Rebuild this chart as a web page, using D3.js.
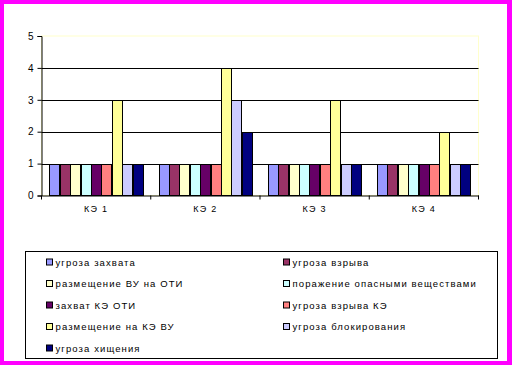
<!DOCTYPE html>
<html><head><meta charset="utf-8">
<script src="https://cdn.jsdelivr.net/npm/d3@7"></script>
<style>body{margin:0;background:#fff}svg{display:block}text{font-family:"Liberation Sans",Arial,sans-serif;fill:#000}</style>
</head><body>
<script>
const categories = ["КЭ 1","КЭ 2","КЭ 3","КЭ 4"];
const seriesNames = ["угроза захвата","угроза взрыва","размещение ВУ на ОТИ","поражение опасными веществами","захват КЭ ОТИ","угроза взрыва КЭ","размещение на КЭ ВУ","угроза блокирования","угроза хищения"];
const seriesColors = ["#9999FF","#993366","#FFFFCC","#CCFFFF","#660066","#FF8080","#FFFF99","#CCCCFF","#000080"];
const values = [
  [1,1,1,1],
  [1,1,1,1],
  [1,1,1,1],
  [1,1,1,1],
  [1,1,1,1],
  [1,1,1,1],
  [3,4,3,2],
  [1,3,1,1],
  [1,2,1,1]
];
const yTicks = [0,1,2,3,4,5];

const W=512,H=365;
const svg=d3.select("body").append("svg").attr("width",W).attr("height",H);
svg.append("rect").attr("width",W).attr("height",H).attr("fill","#FF00FF");
svg.append("rect").attr("x",4).attr("y",4).attr("width",503).attr("height",357).attr("fill","#fff");

const px0=41.5, px1=478.5, py0=195.5, py1=36;
const x=d3.scaleBand().domain(categories).range([px0,px1]).paddingInner(0).paddingOuter(0);
const xs=d3.scaleBand().domain(d3.range(seriesNames.length)).range([0,x.bandwidth()]).paddingInner(0).paddingOuter(0.75);
const y=d3.scaleLinear().domain([0,5]).range([py0,py1]);

// plot border (light yellow)
svg.append("rect").attr("x",px0).attr("y",py1).attr("width",px1-px0).attr("height",py0-py1).attr("fill","none").attr("stroke","#FFFFCC").attr("stroke-width",1);
// gridlines
svg.append("g").selectAll("line").data(yTicks.filter(t=>t>0&&t<5)).join("line")
  .attr("x1",px0).attr("x2",px1).attr("y1",d=>Math.round(y(d))+0.5).attr("y2",d=>Math.round(y(d))+0.5)
  .attr("stroke","#000").attr("stroke-width",1);

// bars
const g=svg.append("g");
seriesNames.forEach((s,i)=>{
  g.selectAll(null).data(categories).join("rect")
    .attr("x",(c)=>Math.round(x(c)+xs(i))+0.5)
    .attr("y",(c,j)=>Math.round(y(values[i][j]))+0.5)
    .attr("width",Math.round(xs.bandwidth())-0)
    .attr("height",(c,j)=>py0-0.5-Math.round(y(values[i][j])))
    .attr("fill",seriesColors[i]).attr("stroke","#000").attr("stroke-width",1);
});

// y axis
const yAxis=d3.axisLeft(y).tickValues(yTicks).tickSize(4).tickPadding(4).tickFormat(d3.format("d"));
const ya=svg.append("g").attr("transform",`translate(${px0},0)`).call(yAxis);
ya.select(".domain").attr("stroke","#000");
ya.selectAll("text").style("font-size","10px").attr("font-family","Liberation Sans, Arial, sans-serif");

// x axis
const xAxis=d3.axisBottom(x).tickSize(0).tickPadding(10);
const xa=svg.append("g").attr("transform",`translate(0,${py0})`).call(xAxis);
xa.select(".domain").attr("stroke","#000");
xa.selectAll("text").style("font-size","9px").style("letter-spacing","1.2px").attr("font-family","Liberation Sans, Arial, sans-serif");
xa.selectAll(".bnd").data(d3.range(categories.length+1)).join("line")
  .attr("x1",d=>px0+d*x.bandwidth()).attr("x2",d=>px0+d*x.bandwidth()).attr("y1",0).attr("y2",4).attr("stroke","#000");

// legend
const lx0=25.5, ly0=251.5, lx1=497.5, ly1=358.5;
svg.append("rect").attr("x",lx0).attr("y",ly0).attr("width",lx1-lx0).attr("height",ly1-ly0).attr("fill","#fff").attr("stroke","#000");
const colX=[46.5,283.5];
const rowY=[262,283.5,305,326.5,348];
const lg=svg.append("g").selectAll("g").data(seriesNames).join("g")
  .attr("transform",(d,i)=>`translate(${colX[i%2]},${rowY[Math.floor(i/2)]})`);
lg.append("rect").attr("x",0).attr("y",-3).attr("width",6).attr("height",6)
  .attr("fill",(d,i)=>seriesColors[i]).attr("stroke","#000").attr("stroke-width",1);
lg.append("text").attr("x",9).attr("y",3.5).style("font-size","9.5px").style("letter-spacing","1.1px").text(d=>d);
</script>
</body></html>
